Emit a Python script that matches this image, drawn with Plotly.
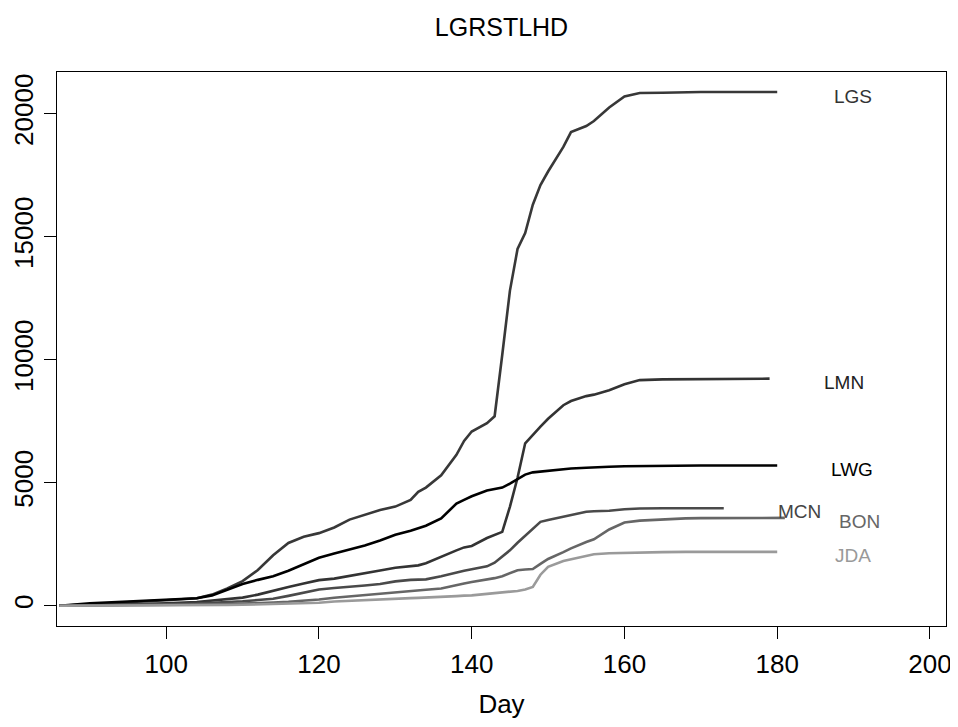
import plotly.graph_objects as go
from plotly.graph_objs import Figure

days: list[int] = [86, 90, 95, 100, 104, 106, 108, 110, 112, 114, 116, 118, 120, 122, 124, 126,
                   128, 130, 132, 133, 134, 136, 138, 139, 140, 142, 143, 144, 145, 146, 147, 148,
                   149, 150, 152, 153, 155, 156, 158, 160, 162, 165, 168, 170, 173, 175, 179, 180, 181]

lgs: list = [0, 60, 150, 220, 300, 450, 700, 1000, 1450, 2050, 2550, 2800, 2950, 3180, 3500, 3700,
             3890, 4030, 4300, 4630, 4800, 5300, 6130, 6700, 7080, 7420, 7700, 10200, 12800, 14500, 15150, 16300,
             17100, 17650, 18650, 19250, 19500, 19700, 20250, 20700, 20840, 20850, 20880, 20880, 20880, 20880, 20880, 20880, None]
lmn: list = [0, 20, 50, 100, 150, 200, 250, 330, 450, 620, 760, 900, 1040, 1100, 1200, 1320,
             1430, 1540, 1600, 1640, 1730, 2000, 2250, 2370, 2430, 2750, 2880, 3000, 4020, 5200, 6600, 6950,
             7280, 7600, 8150, 8320, 8520, 8580, 8760, 9000, 9170, 9200, 9200, 9200, 9200, 9230, 9230, None, None]
lwg: list = [0, 100, 170, 230, 300, 420, 650, 880, 1050, 1200, 1420, 1700, 1950, 2120, 2280, 2450,
             2650, 2880, 3050, 3150, 3250, 3550, 4150, 4300, 4450, 4680, 4740, 4800, 4960, 5150, 5330, 5420,
             5450, 5500, 5560, 5580, 5610, 5630, 5650, 5670, 5680, 5680, 5700, 5700, 5700, 5700, 5700, 5700, None]
mcn: list = [0, 10, 30, 60, 90, 110, 140, 180, 230, 280, 400, 540, 660, 720, 760, 820,
             880, 990, 1050, 1060, 1070, 1200, 1360, 1420, 1480, 1600, 1750, 2000, 2250, 2560, 2850, 3150,
             3410, 3480, 3620, 3700, 3820, 3840, 3860, 3920, 3950, 3960, 3960, 3960, 3960, None, None, None, None]
bon: list = [0, 5, 15, 30, 45, 55, 65, 80, 100, 130, 160, 200, 250, 320, 380, 440,
             500, 560, 610, 630, 650, 700, 850, 900, 960, 1050, 1120, 1200, 1330, 1440, 1470, 1490,
             1700, 1900, 2180, 2330, 2590, 2700, 3100, 3380, 3460, 3510, 3550, 3560, 3570, 3570, 3570, 3570, 3570]
jda: list = [0, 0, 5, 10, 20, 25, 30, 40, 50, 60, 70, 90, 120, 170, 200, 240,
             280, 300, 310, 320, 330, 360, 390, 410, 420, 480, 510, 540, 560, 600, 660, 760,
             1260, 1580, 1820, 1890, 2050, 2090, 2130, 2150, 2170, 2180, 2190, 2190, 2190, 2190, 2190, 2190, None]

names: list[str] = ["LGS", "LMN", "LWG", "MCN", "BON", "JDA"]
series: list[list] = [lgs, lmn, lwg, mcn, bon, jda]
line_colors: list[str] = ["#383838", "#333333", "#000000", "#4a4a4a", "#666666", "#9a9a9a"]
text_colors: list[str] = ["#333333", "#222222", "#000000", "#444444", "#666666", "#999999"]
label_day: list[float] = [189.9, 188.7, 189.8, 182.9, 190.8, 189.9]
label_value: list[float] = [20680, 9065, 5557, 3821, 3415, 2061]

x_ticks: list[int] = [100, 120, 140, 160, 180, 200]
y_ticks: list[int] = [0, 5000, 10000, 15000, 20000]

fig: Figure = go.Figure()
for name, vals, col in zip(names, series, line_colors):
    fig.add_trace(go.Scatter(x=days, y=vals, mode="lines", name=name,
                             line=dict(color=col, width=2.6), connectgaps=False))

for name, d, v, col in zip(names, label_day, label_value, text_colors):
    fig.add_annotation(x=d, y=v, xref="x", yref="y", text=name, showarrow=False,
                       font=dict(size=19, color=col, family="Liberation Sans, Arial"))

# page body adds an 8px margin, so the figure is 8px smaller on each side
fig.update_layout(
    width=950,
    height=711,
    margin=dict(l=49, r=12, t=64, b=93),
    paper_bgcolor="white",
    plot_bgcolor="white",
    showlegend=False,
    font=dict(family="Liberation Sans, Arial", color="black"),
    title=dict(text="LGRSTLHD", x=0.5, xref="paper", xanchor="center",
               y=0.973, yref="container", yanchor="middle", font=dict(size=25)),
)
fig.update_xaxes(
    range=[85.7, 202.1], tickvals=x_ticks, ticktext=[str(t) for t in x_ticks],
    ticks="outside", ticklen=12, tickwidth=1.2, tickcolor="black",
    showline=True, mirror=True, linecolor="black", linewidth=1.3,
    showgrid=False, zeroline=False, tickfont=dict(size=26), automargin=False,
    ticklabelstandoff=3,
    title=dict(text="Day", font=dict(size=26), standoff=16),
)
fig.update_yaxes(
    range=[-825, 21695], tickvals=y_ticks, ticktext=[str(t) for t in y_ticks],
    ticks="outside", ticklen=12, tickwidth=1.2, tickcolor="black", tickangle=-90,
    showline=True, mirror=True, linecolor="black", linewidth=1.3,
    showgrid=False, zeroline=False, tickfont=dict(size=26), automargin=False,
)

fig.write_html("out.html")
